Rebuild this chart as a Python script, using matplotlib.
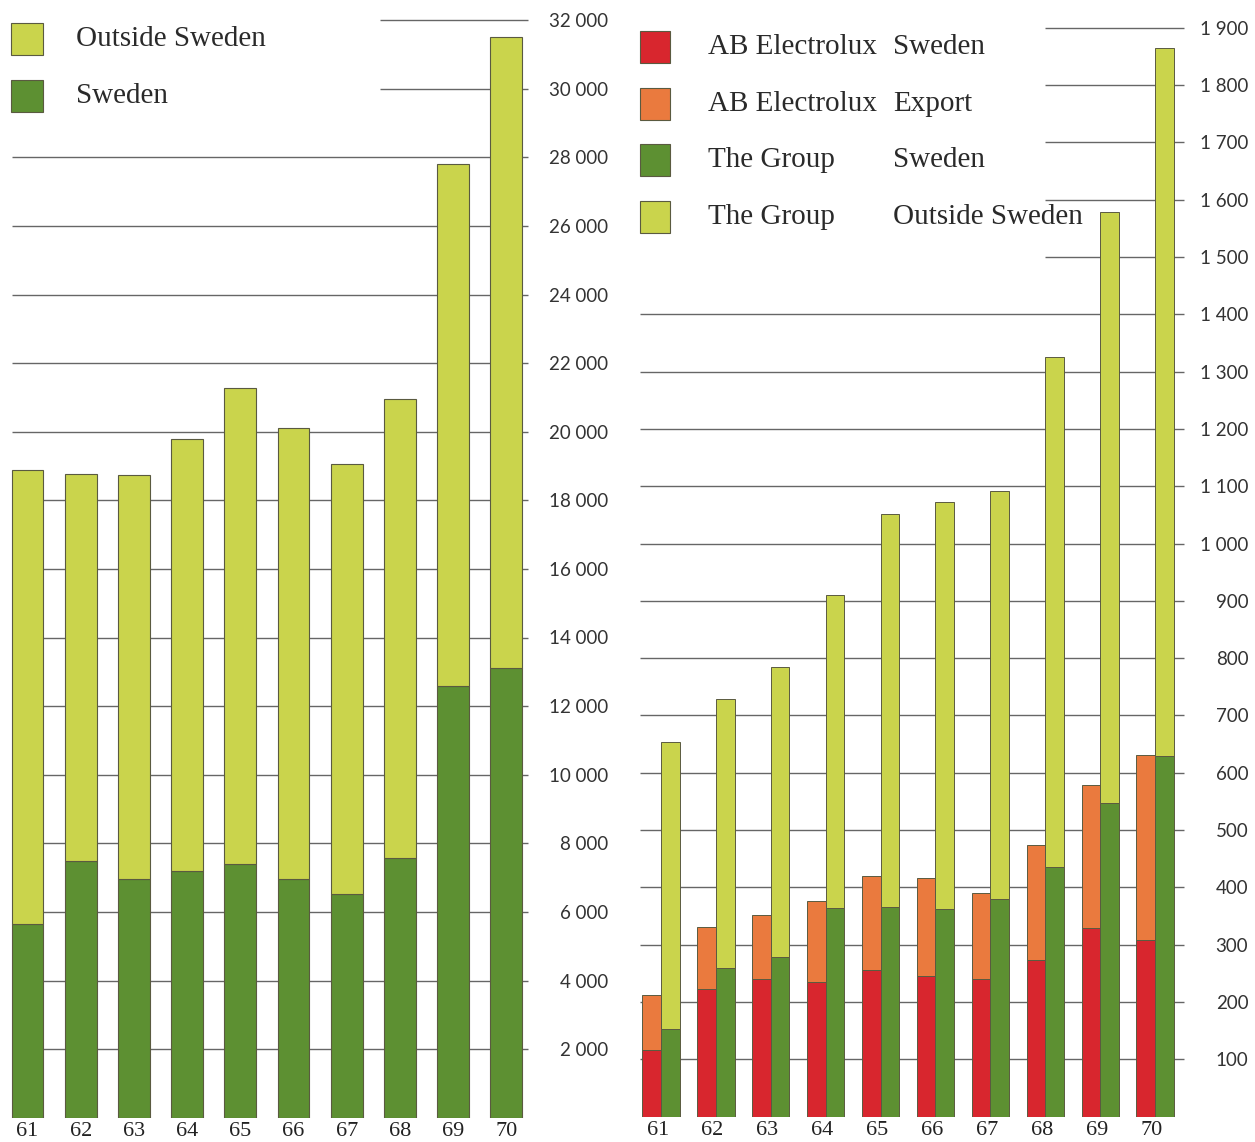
import numpy as np
import matplotlib
matplotlib.use("Agg")
import matplotlib.pyplot as plt
from matplotlib.patches import Rectangle

# ---- data ----
years = ['61', '62', '63', '64', '65', '66', '67', '68', '69', '70']

# left panel
left_sweden  = [5650, 7480, 6950, 7180, 7400, 6950, 6520, 7570, 12600, 13100]
left_outside = [13240, 11280, 11800, 12610, 13860, 13150, 12550, 13380, 15200, 18400]
left_ticks   = list(range(2000, 32001, 2000))

# right panel
ab_sweden     = [116, 223, 240, 235, 255, 246, 241, 274, 330, 308]
ab_export     = [97, 108, 111, 141, 165, 170, 149, 200, 249, 323]
group_sweden  = [153, 260, 279, 364, 366, 363, 379, 435, 547, 629]
group_outside = [501, 469, 505, 546, 685, 710, 713, 890, 1031, 1236]
right_ticks   = list(range(100, 1901, 100))

c_light  = '#cad44c'
c_dark   = '#5d9032'
c_red    = '#d8262e'
c_orange = '#ea7a3e'
c_edge   = '#5a5a40'
c_grid   = '#666666'

SERIF = ['Liberation Serif', 'DejaVu Serif']
SANS = ['Lato', 'DejaVu Sans']

W, H = 1255, 1142
fig = plt.figure(figsize=(W / 100, H / 100), dpi=100)
fig.patch.set_facecolor('white')

def fx(px):
    return px / W

def fy(py):
    return 1 - py / H

def fmt(v):
    return f"{v:,}".replace(",", " ")

x = np.arange(len(years))

# ---------------- left panel ----------------
axl = fig.add_axes([0, fy(1117.7), fx(530), 1 - fy(1117.7)])
axl.set_ylim(0, 1117.7 / 68.6 * 2000)
axl.set_xlim(-0.517, 9.445)

axl.hlines([t for t in left_ticks if t < 29000], -0.3, 9.40, color=c_grid, lw=1.0, zorder=1)
axl.hlines([t for t in left_ticks if t >= 29000], 6.63, 9.40, color=c_grid, lw=1.0, zorder=1)

axl.bar(x, left_sweden, width=0.6, color=c_dark, edgecolor=c_edge, lw=0.8, zorder=2)
axl.bar(x, left_outside, bottom=left_sweden, width=0.6, color=c_light,
        edgecolor=c_edge, lw=0.8, zorder=2)

axl.set_yticks(left_ticks, [fmt(t) for t in left_ticks])
axl.yaxis.tick_right()
axl.tick_params(axis='y', length=0, pad=56, labelsize=13.5, labelcolor='#333333')
for lab in axl.get_yticklabels():
    lab.set_ha('right')
    lab.set_family(SANS)

axl.set_xticks(x, years)
axl.tick_params(axis='x', length=0, pad=3, labelsize=16, labelcolor='#222222')
for lab in axl.get_xticklabels():
    lab.set_family(SERIF)

for s in axl.spines.values():
    s.set_visible(False)
axl.patch.set_alpha(0)

# ---------------- right panel ----------------
axr = fig.add_axes([fx(630), fy(1116.6), fx(560), 1 - fy(1116.6)])
axr.set_ylim(0, 1116.6 / 57.3 * 100)
axr.set_xlim(-0.565, 9.636)

axr.hlines([t for t in right_ticks if t < 1450], -0.38, 9.52, color=c_grid, lw=1.0, zorder=1)
axr.hlines([t for t in right_ticks if t >= 1450], 6.99, 9.52, color=c_grid, lw=1.0, zorder=1)

bw = 0.34
axr.bar(x - bw / 2, ab_sweden, width=bw, color=c_red, edgecolor=c_edge, lw=0.7, zorder=2)
axr.bar(x - bw / 2, ab_export, bottom=ab_sweden, width=bw, color=c_orange,
        edgecolor=c_edge, lw=0.7, zorder=2)
axr.bar(x + bw / 2, group_sweden, width=bw, color=c_dark, edgecolor=c_edge, lw=0.7, zorder=2)
axr.bar(x + bw / 2, group_outside, bottom=group_sweden, width=bw, color=c_light,
        edgecolor=c_edge, lw=0.7, zorder=2)

axr.set_yticks(right_ticks, [fmt(t) for t in right_ticks])
axr.yaxis.tick_right()
axr.tick_params(axis='y', length=0, pad=42, labelsize=13.5, labelcolor='#333333')
for lab in axr.get_yticklabels():
    lab.set_ha('right')
    lab.set_family(SANS)

axr.set_xticks(x - 0.06, years)
axr.tick_params(axis='x', length=0, pad=3, labelsize=16, labelcolor='#222222')
for lab in axr.get_xticklabels():
    lab.set_family(SERIF)

for s in axr.spines.values():
    s.set_visible(False)
axr.patch.set_alpha(0)

# ---------------- legends ----------------
def swatch(px, py, w, h, color):
    fig.patches.append(Rectangle((fx(px), fy(py + h)), w / W, h / H, transform=fig.transFigure,
                                 facecolor=color, edgecolor=c_edge, lw=0.8))

def label(px, py, txt):
    fig.text(fx(px), fy(py), txt, family=SERIF, fontsize=21, color='#2a2a2a',
             ha='left', va='center')

swatch(11, 23, 32, 32, c_light)
label(76, 39, 'Outside Sweden')
swatch(11, 80, 32, 32, c_dark)
label(76, 96, 'Sweden')

rows = [(47, c_red, 'AB Electrolux', 'Sweden'),
        (104, c_orange, 'AB Electrolux', 'Export'),
        (160, c_dark, 'The Group', 'Sweden'),
        (217, c_light, 'The Group', 'Outside Sweden')]
for py, col, a, b in rows:
    swatch(640, py - 16, 30, 32, col)
    label(708, py, a)
    label(893, py, b)

fig.savefig('out.png', dpi=100, facecolor='white')
